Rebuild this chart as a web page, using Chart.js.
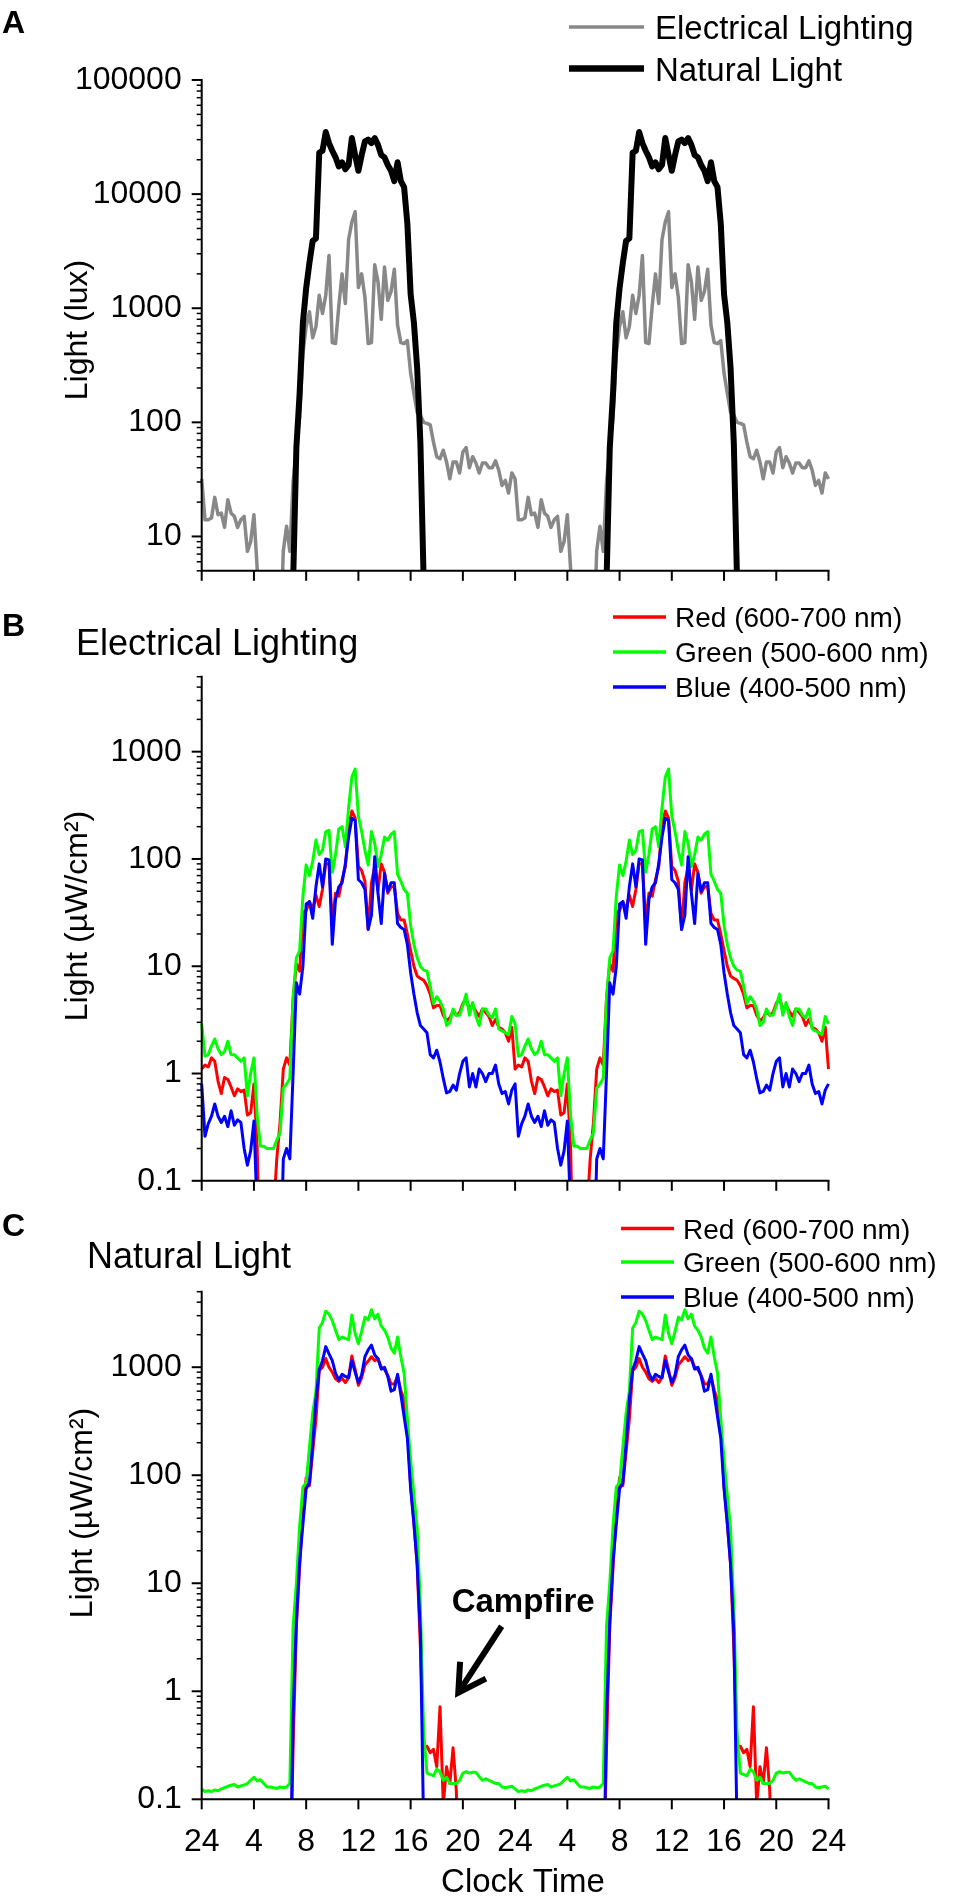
<!DOCTYPE html>
<html lang="en">
<head>
<meta charset="UTF-8">
<title>Light exposure: electrical lighting vs natural light</title>
<style>
    body { margin: 0; background: #ffffff; }
    #page { position: relative; width: 960px; height: 1903px; overflow: hidden; background: #ffffff; }
    canvas { position: absolute; left: 0; }
</style>
</head>
<body>
<div id="page">
    <canvas id="chartA" width="960" height="610" style="top:0px"></canvas>
    <canvas id="chartB" width="960" height="630" style="top:590px"></canvas>
    <canvas id="chartC" width="960" height="703" style="top:1200px"></canvas>
</div>
<script src="https://cdn.jsdelivr.net/npm/chart.js"></script>
<script>
// one 24 h profile, sampled every 15 min; the figure plots it twice (48 h)
const hours = Array.from({ length: 96 }, (_, i) => i * 0.25);
const xTickHours = [0, 4, 8, 12, 16, 20, 24, 28, 32, 36, 40, 44, 48];

// Panel A - illuminance (lux); 1 = below the axis
const elecLux = [32, 14, 14, 14.5, 22, 15.5, 16, 12, 21, 16, 15, 12, 14, 15, 7.4, 9,
    15.5, 5.2, 1, 1, 1, 1, 1, 1, 1, 7.5, 12.3, 7.4, 30, 60, 110, 400,
    690, 930, 550, 690, 1300, 900, 1300, 2900, 500, 490, 1050, 2000, 1100, 4000, 5700, 7000,
    1520, 2000, 1250, 490, 500, 2400, 1700, 800, 2300, 1170, 1400, 2200, 710, 500, 490, 520,
    270, 180, 122, 115, 100, 98, 95, 67, 50, 48, 57, 45, 32, 45, 45, 36,
    55, 60, 40, 50, 44, 36, 44, 44, 40, 40, 46, 38, 28, 31, 24, 36];
const naturalLux = [1, 1, 1, 1, 1, 1, 1, 1, 1, 1, 1, 1, 1, 1, 1, 1,
    1, 1, 1, 1, 1, 1, 1, 1, 1, 1, 1, 1, 4, 60, 180, 750,
    1500, 2500, 3900, 4100, 23000, 24000, 35000, 28000, 24000, 21000, 17500, 19000, 16500, 18000, 31000, 22000,
    16000, 22000, 29000, 30000, 28000, 31000, 27000, 22000, 21000, 18000, 16000, 13000, 19000, 13000, 11500, 5500,
    1330, 750, 300, 65, 4, 1, 1, 1, 1, 1, 1, 1, 1, 1, 1, 1,
    1, 1, 1, 1, 1, 1, 1, 1, 1, 1, 1, 1, 1, 1, 1, 1];

// Panel B - electrical lighting irradiance (uW/cm2); 0.01 = below the axis
const elecRed = [1.1, 1.2, 1.15, 1.4, 1.3, 0.85, 0.65, 0.92, 0.88, 0.75, 0.62, 0.72, 0.68, 0.7, 0.41, 0.43,
    0.8, 0.2, 0.01, 0.01, 0.01, 0.01, 0.05, 0.16, 0.35, 1.1, 1.4, 1.2, 5, 10.5, 9, 32,
    33, 40, 34, 46, 36, 52, 90, 90, 25, 48, 45, 64, 85, 200, 280, 240,
    85, 78, 62, 22, 60, 85, 51, 90, 75, 48, 55, 55, 31, 27, 27, 20,
    14, 10, 8.1, 7.7, 7.4, 6.6, 5.5, 4.1, 4.3, 4.3, 3.5, 3.1, 3.3, 3.8, 3.5, 3.7,
    4.5, 5.0, 4.0, 4.3, 3.8, 3.4, 4.0, 3.7, 3.4, 2.8, 3.2, 2.7, 2.6, 2.4, 2.0, 2.7];
const elecGreen = [2.9, 1.45, 1.5, 1.8, 2.1, 1.7, 1.5, 1.6, 2.0, 1.5, 1.5, 1.4, 1.3, 1.4, 0.62, 1.0,
    1.4, 0.4, 0.21, 0.21, 0.2, 0.2, 0.2, 0.24, 0.28, 0.73, 0.8, 0.9, 5, 12, 14, 45,
    88, 70, 95, 150, 110, 120, 180, 185, 75, 110, 190, 200, 130, 300, 580, 690,
    250, 180, 120, 88, 180, 140, 85, 110, 160, 150, 170, 180, 72, 62, 52, 48,
    24, 16, 12, 10, 9.2, 9, 6.5, 4.5, 5.2, 4.7, 4.0, 2.8, 3.0, 4.0, 3.5, 3.5,
    4.3, 5.5, 3.5, 4.6, 3.4, 2.8, 4.0, 4.0, 3.5, 3.3, 4.0, 2.6, 2.5, 2.4, 2.3, 3.4];
const elecBlue = [0.8, 0.26, 0.34, 0.4, 0.52, 0.4, 0.35, 0.4, 0.32, 0.45, 0.33, 0.37, 0.35, 0.2, 0.14, 0.19,
    0.36, 0.05, 0.01, 0.01, 0.01, 0.01, 0.01, 0.01, 0.01, 0.16, 0.2, 0.16, 1.0, 7, 5.5, 10,
    38, 40, 28, 55, 90, 55, 100, 98, 16, 42, 55, 60, 90, 160, 240, 230,
    64, 60, 52, 22, 30, 105, 48, 25, 73, 50, 60, 60, 25, 23, 22, 16,
    8.7, 5.5, 3.7, 2.8, 2.6, 2.4, 1.5, 1.4, 1.65, 1.28, 0.9, 0.66, 0.68, 0.78, 0.7, 1.0,
    1.3, 1.4, 0.75, 1.0, 0.75, 1.1, 1.0, 0.84, 1.0, 1.0, 1.2, 0.8, 0.65, 0.68, 0.52, 0.7];

// Panel C - natural light irradiance (uW/cm2); 0.01 = below the axis
const natRed = [0.01, 0.01, 0.01, 0.01, 0.01, 0.01, 0.01, 0.01, 0.01, 0.01, 0.01, 0.01, 0.01, 0.01, 0.01, 0.01,
    0.01, 0.01, 0.01, 0.01, 0.01, 0.01, 0.01, 0.01, 0.01, 0.01, 0.01, 0.01, 0.3, 4, 14, 45,
    95, 80, 165, 330, 930, 1000, 1200, 1000, 900, 780, 740, 790, 720, 800, 1270, 950,
    680, 800, 1050, 1140, 1250, 1150, 1200, 1000, 950, 840, 700, 700, 820, 610, 500, 280,
    80, 36, 15, 2.5, 0.3, 0.31, 0.27, 0.29, 0.2, 0.72, 0.09, 0.2, 0.14, 0.3, 0.12, 0.01,
    0.01, 0.01, 0.01, 0.01, 0.01, 0.01, 0.01, 0.01, 0.01, 0.01, 0.01, 0.01, 0.01, 0.01, 0.01, 0.01];
const natGreen = [0.125, 0.118, 0.12, 0.118, 0.122, 0.12, 0.125, 0.128, 0.132, 0.135, 0.137, 0.13, 0.133, 0.136, 0.14, 0.15,
    0.16, 0.148, 0.152, 0.14, 0.13, 0.13, 0.128, 0.126, 0.13, 0.128, 0.13, 0.14, 4, 10, 34, 78,
    85, 180, 375, 600, 2300, 2600, 3300, 3100, 2700, 2200, 1800, 1900, 1850, 1800, 3050, 2050,
    1650, 2150, 2900, 2750, 3400, 2800, 3100, 2400, 2200, 1900, 1500, 1350, 1900, 1250, 880, 330,
    140, 65, 32, 6, 0.4, 0.175, 0.17, 0.165, 0.19, 0.18, 0.15, 0.16, 0.14, 0.14, 0.14, 0.15,
    0.175, 0.18, 0.175, 0.178, 0.178, 0.162, 0.15, 0.155, 0.15, 0.145, 0.14, 0.14, 0.13, 0.128, 0.13, 0.132];
const natBlue = [0.01, 0.01, 0.01, 0.01, 0.01, 0.01, 0.01, 0.01, 0.01, 0.01, 0.01, 0.01, 0.01, 0.01, 0.01, 0.01,
    0.01, 0.01, 0.01, 0.01, 0.01, 0.01, 0.01, 0.01, 0.01, 0.01, 0.01, 0.01, 0.6, 4.5, 16, 35,
    75, 85, 195, 500, 950, 1150, 1550, 1330, 1150, 880, 760, 860, 820, 800, 1150, 900,
    720, 850, 1250, 1450, 1600, 1300, 1200, 960, 1000, 820, 600, 620, 860, 560, 350, 220,
    75, 36, 15, 3.5, 0.05, 0.01, 0.01, 0.01, 0.01, 0.01, 0.01, 0.01, 0.01, 0.01, 0.01, 0.01,
    0.01, 0.01, 0.01, 0.01, 0.01, 0.01, 0.01, 0.01, 0.01, 0.01, 0.01, 0.01, 0.01, 0.01, 0.01, 0.01];

// campfire annotation in data units (hour, value)
const campfireLabelAt = [19.14, 5.4];
const campfireArrow = { tail: [22.97, 4.0], tip: [19.65, 0.97] };

const FONT = "Arial, 'Liberation Sans', Helvetica, sans-serif";
const GRAY = '#888888';
const RED = '#ff0000';
const GREEN = '#00ff00';
const BLUE = '#0000ff';

Chart.defaults.font.family = FONT;

// repeat the 24 h profile for the second day
function twoDays(values) {
    const pts = [];
    for (let d = 0; d < 2; d++) {
        values.forEach((v, i) => pts.push({ x: hours[i] + 24 * d, y: v }));
    }
    pts.push({ x: 48, y: values[0] });
    return pts;
}

function isDecade(v) {
    const l = Math.log10(v);
    return Math.abs(l - Math.round(l)) < 1e-9;
}

// axes, tick marks and all the panel text
const panelDecor = {
    id: 'panelDecor',
    afterDatasetsDraw(chart, args, opts) {
        const { ctx, chartArea: area, scales: { x, y } } = chart;
        ctx.save();
        ctx.strokeStyle = '#000';
        ctx.lineCap = 'square';
        ctx.lineWidth = 2;
        ctx.beginPath();
        ctx.moveTo(area.left, area.top);
        ctx.lineTo(area.left, area.bottom);
        ctx.lineTo(area.right, area.bottom);
        ctx.stroke();

        ctx.lineCap = 'butt';
        const lo = Math.floor(Math.log10(y.min));
        const hi = Math.ceil(Math.log10(y.max));
        for (let n = lo; n <= hi; n++) {
            for (let k = 1; k <= 9; k++) {
                const v = k * Math.pow(10, n);
                if (v < y.min * 0.999 || v > y.max * 1.001) continue;
                const py = y.getPixelForValue(v);
                ctx.lineWidth = k === 1 ? 2 : 1.5;
                ctx.beginPath();
                ctx.moveTo(area.left - (k === 1 ? 10 : 5), py);
                ctx.lineTo(area.left, py);
                ctx.stroke();
            }
        }
        ctx.lineWidth = 2;
        xTickHours.forEach(h => {
            const px = x.getPixelForValue(h);
            ctx.beginPath();
            ctx.moveTo(px, area.bottom);
            ctx.lineTo(px, area.bottom + 10);
            ctx.stroke();
        });
        ctx.restore();
    },
    afterDraw(chart, args, opts) {
        const { ctx, scales: { x, y } } = chart;
        const top = opts.top;
        ctx.save();
        ctx.fillStyle = '#000';
        ctx.textBaseline = 'alphabetic';

        (opts.texts || []).forEach(t => {
            ctx.font = t.font;
            ctx.textAlign = t.align || 'left';
            ctx.fillText(t.text, t.x, t.y - top);
        });

        (opts.legend || []).forEach(item => {
            ctx.strokeStyle = item.color;
            ctx.lineWidth = item.width;
            ctx.beginPath();
            ctx.moveTo(item.x1, item.y - top);
            ctx.lineTo(item.x2, item.y - top);
            ctx.stroke();
            ctx.font = item.font;
            ctx.textAlign = 'left';
            ctx.fillText(item.label, item.tx, item.ty - top);
        });

        if (opts.yTitle) {
            const t = opts.yTitle;
            ctx.save();
            ctx.translate(t.x, t.y - top);
            ctx.rotate(-Math.PI / 2);
            ctx.font = t.font;
            ctx.textAlign = 'center';
            ctx.fillText(t.text, 0, 0);
            ctx.restore();
        }

        if (opts.campfire) {
            const c = opts.campfire;
            ctx.font = 'bold 33px ' + FONT;
            ctx.textAlign = 'left';
            ctx.fillText('Campfire', x.getPixelForValue(c.label[0]), y.getPixelForValue(c.label[1]));
            const tip = { x: x.getPixelForValue(c.arrow.tip[0]), y: y.getPixelForValue(c.arrow.tip[1]) };
            const tail = { x: x.getPixelForValue(c.arrow.tail[0]), y: y.getPixelForValue(c.arrow.tail[1]) };
            const ang = Math.atan2(tip.y - tail.y, tip.x - tail.x);
            ctx.strokeStyle = '#000';
            ctx.lineWidth = 6;
            ctx.lineCap = 'butt';
            ctx.beginPath();
            ctx.moveTo(tail.x, tail.y);
            ctx.lineTo(tip.x - 4 * Math.cos(ang), tip.y - 4 * Math.sin(ang));
            ctx.stroke();
            const L = 31, spread = 0.52;
            ctx.lineJoin = 'miter';
            ctx.beginPath();
            ctx.moveTo(tip.x - L * Math.cos(ang - spread), tip.y - L * Math.sin(ang - spread));
            ctx.lineTo(tip.x, tip.y);
            ctx.lineTo(tip.x - L * Math.cos(ang + spread), tip.y - L * Math.sin(ang + spread));
            ctx.stroke();
        }
        ctx.restore();
    }
};

function lineSet(label, values, color, width) {
    return {
        label: label,
        data: twoDays(values),
        borderColor: color,
        borderWidth: width,
        borderJoinStyle: 'round',
        pointRadius: 0,
        tension: 0,
        fill: false,
        clip: { left: 4, right: 4, top: 6, bottom: 0 }
    };
}

function makeChart(id, cfg) {
    return new Chart(document.getElementById(id), {
        type: 'line',
        data: { datasets: cfg.datasets },
        options: {
            responsive: false,
            animation: false,
            events: [],
            layout: { padding: cfg.padding },
            scales: {
                x: {
                    type: 'linear',
                    min: 0,
                    max: 48,
                    grid: { display: false, drawTicks: false },
                    border: { display: false },
                    ticks: {
                        display: cfg.showXLabels,
                        stepSize: 4,
                        autoSkip: false,
                        maxRotation: 0,
                        padding: 24,
                        color: '#000',
                        font: { size: 32, family: FONT },
                        callback: v => (v % 24 === 0 ? '24' : String(v % 24))
                    },
                    afterFit: s => { s.height = cfg.xAxisHeight; }
                },
                y: {
                    type: 'logarithmic',
                    min: cfg.yMin,
                    max: cfg.yMax,
                    grid: { display: false, drawTicks: false },
                    border: { display: false },
                    ticks: {
                        autoSkip: false,
                        padding: 20,
                        color: '#000',
                        font: { size: 32, family: FONT },
                        callback: v => (isDecade(v) ? String(v) : '')
                    },
                    afterFit: s => { s.width = 201.7; }
                }
            },
            plugins: {
                legend: { display: false },
                tooltip: { enabled: false },
                panelDecor: cfg.decor
            }
        },
        plugins: [panelDecor]
    });
}

const legendFont = '28px ' + FONT;
const titleFont = '36px ' + FONT;
const letterFont = 'bold 32px ' + FONT;
const axisTitleFont = '32px ' + FONT;

// A
makeChart('chartA', {
    datasets: [
        lineSet('Natural Light', naturalLux, '#000000', 6),
        lineSet('Electrical Lighting', elecLux, GRAY, 3.5)
    ],
    yMin: 5, yMax: 100000,
    padding: { left: 0, right: 131.5, top: 80, bottom: 3.3 },
    xAxisHeight: 30,
    showXLabels: false,
    decor: {
        top: 0,
        texts: [{ text: 'A', x: 2, y: 33, font: letterFont }],
        legend: [
            { color: GRAY, width: 3.5, x1: 569, x2: 644, y: 27, label: 'Electrical Lighting', tx: 655, ty: 39, font: '33px ' + FONT },
            { color: '#000000', width: 6.5, x1: 569, x2: 644, y: 68.5, label: 'Natural Light', tx: 655, ty: 80.5, font: '33px ' + FONT }
        ],
        yTitle: { text: 'Light (lux)', x: 87, y: 330, font: axisTitleFont }
    }
});

// B
makeChart('chartB', {
    datasets: [
        lineSet('Blue (400-500 nm)', elecBlue, BLUE, 3),
        lineSet('Green (500-600 nm)', elecGreen, GREEN, 3),
        lineSet('Red (600-700 nm)', elecRed, RED, 3)
    ],
    yMin: 0.1, yMax: 5000,
    padding: { left: 0, right: 131.5, top: 86.7, bottom: 3.7 },
    xAxisHeight: 32,
    showXLabels: false,
    decor: {
        top: 590,
        texts: [
            { text: 'B', x: 2, y: 636, font: letterFont },
            { text: 'Electrical Lighting', x: 76, y: 655, font: titleFont }
        ],
        legend: [
            { color: RED, width: 3.5, x1: 613, x2: 666, y: 617, label: 'Red (600-700 nm)', tx: 675, ty: 627, font: legendFont },
            { color: GREEN, width: 3.5, x1: 613, x2: 666, y: 652, label: 'Green (500-600 nm)', tx: 675, ty: 662, font: legendFont },
            { color: BLUE, width: 3.5, x1: 613, x2: 666, y: 687, label: 'Blue (400-500 nm)', tx: 675, ty: 697, font: legendFont }
        ],
        yTitle: { text: 'Light (µW/cm²)', x: 87, y: 916, font: axisTitleFont }
    }
});

// C
makeChart('chartC', {
    datasets: [
        lineSet('Blue (400-500 nm)', natBlue, BLUE, 3),
        lineSet('Green (500-600 nm)', natGreen, GREEN, 3),
        lineSet('Red (600-700 nm)', natRed, RED, 3)
    ],
    yMin: 0.1, yMax: 5000,
    padding: { left: 0, right: 131.5, top: 91.7, bottom: 3.7 },
    xAxisHeight: 100,
    showXLabels: true,
    decor: {
        top: 1200,
        texts: [
            { text: 'C', x: 2, y: 1236, font: letterFont },
            { text: 'Natural Light', x: 87, y: 1268, font: titleFont },
            { text: 'Clock Time', x: 523, y: 1891.7, font: '33px ' + FONT, align: 'center' }
        ],
        legend: [
            { color: RED, width: 3.5, x1: 621, x2: 674, y: 1228.5, label: 'Red (600-700 nm)', tx: 683, ty: 1238.5, font: legendFont },
            { color: GREEN, width: 3.5, x1: 621, x2: 674, y: 1262, label: 'Green (500-600 nm)', tx: 683, ty: 1272, font: legendFont },
            { color: BLUE, width: 3.5, x1: 621, x2: 674, y: 1297, label: 'Blue (400-500 nm)', tx: 683, ty: 1307, font: legendFont }
        ],
        yTitle: { text: 'Light (µW/cm²)', x: 91.5, y: 1513, font: axisTitleFont },
        campfire: { label: campfireLabelAt, arrow: campfireArrow }
    }
});
</script>
</body>
</html>
